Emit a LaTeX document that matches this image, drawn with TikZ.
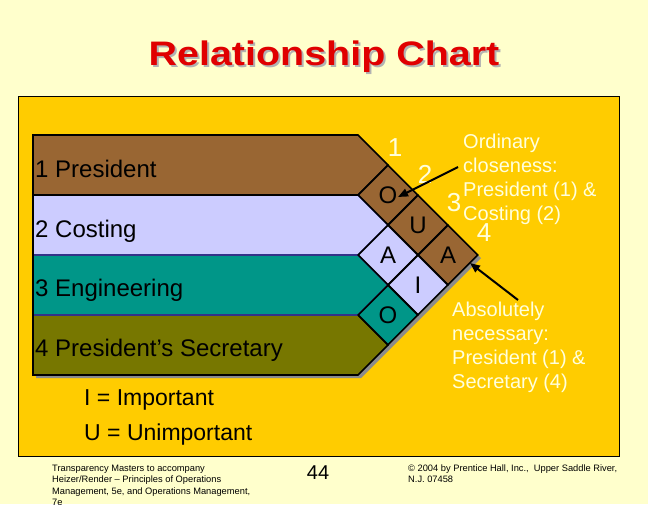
\documentclass[tikz,border=0pt]{standalone}
\usepackage{fontspec}
\setmainfont{Liberation Sans}
\usetikzlibrary{arrows.meta,shapes.geometric}
\definecolor{slidebg}{HTML}{FFFFCC}
\definecolor{panelgold}{HTML}{FFCC00}
\definecolor{titlered}{HTML}{E00000}
\definecolor{presbrown}{HTML}{996633}
\definecolor{costlav}{HTML}{CCCCFF}
\definecolor{engteal}{HTML}{009688}
\definecolor{secolive}{HTML}{777700}
\definecolor{rownavy}{HTML}{333388}
\definecolor{notewhite}{HTML}{FFFFDD}
\begin{document}
\begin{tikzpicture}[x=1pt,y=-1pt,
  rowline/.style={line width=1.6pt},
  cell/.style={draw, diamond, line width=1.6pt, minimum width=60pt, minimum height=60pt, inner sep=0pt, font=\fontsize{24}{24}\selectfont},
  rowtext/.style={anchor=base west, inner sep=0pt, font=\fontsize{24}{28}\selectfont},
  note/.style={anchor=base west, align=left, inner sep=0pt, text=notewhite, font=\fontsize{20}{24}\selectfont},
  pairnum/.style={text=notewhite, inner sep=0pt, font=\fontsize{26}{26}\selectfont},
  pointer/.style={line width=2pt, -{Triangle[length=10pt,width=8pt]}},
  foot/.style={anchor=base west, align=left, inner sep=0pt, font=\fontsize{9.3}{11.5}\selectfont}]
\useasboundingbox (0,0) rectangle (648,504);
\fill[slidebg] (0,0) rectangle (648,504);
\draw[fill=panelgold, line width=1pt] (18,96) rectangle (619,456);

% title with its shadow
\node[anchor=base, text=black!30, font=\bfseries\fontsize{34}{40}\selectfont] (titleshade) at (326,67) {\scalebox{1.16}[1]{Relationship Chart}};
\node[anchor=base, text=titlered, font=\bfseries\fontsize{34}{40}\selectfont] (title) at (324,65) {\scalebox{1.16}[1]{Relationship Chart}};

% shadow of the chart
\fill[black!45] (36,138) -- (361,138) -- (481,258) -- (361,378) -- (36,378) -- cycle;

% the four rows
\draw[rowline, fill=secolive] (33,315) -- (358,315) -- (388,345) -- (358,375) -- (33,375) -- cycle;
\draw[rowline, draw=rownavy, fill=engteal] (33,255) -- (358,255) -- (388,285) -- (358,315) -- (33,315) -- cycle;
\draw[rowline, draw=rownavy, fill=costlav] (33,195) -- (358,195) -- (388,225) -- (358,255) -- (33,255) -- cycle;
\draw[rowline, fill=presbrown] (33,135) -- (358,135) -- (388,165) -- (358,195) -- (33,195) -- cycle;
\draw[rowline] (33,135) -- (33,375);

\node[rowtext] (president) at (35,177) {1 President};
\node[rowtext] (costing) at (35,237) {2 Costing};
\node[rowtext] (engineering) at (35,296) {3 Engineering};
\node[rowtext] (secretary) at (35,356) {4 President’s Secretary};

% relationship cells
\node[cell, fill=presbrown] (c12) at (388,195) {O};
\node[cell, fill=presbrown] (c13) at (418,225) {U};
\node[cell, fill=presbrown] (c14) at (448,255) {A};
\node[cell, fill=costlav] (c23) at (388,255) {A};
\node[cell, fill=costlav] (c24) at (418,285) {I};
\node[cell, fill=engteal] (c34) at (388,315) {O};

\node[pairnum] (n1) at (395,148) {1};
\node[pairnum] (n2) at (425,174) {2};
\node[pairnum] (n3) at (454,203) {3};
\node[pairnum] (n4) at (484,233) {4};

% notes on the right
\node[note] (ordnote) at (463,220) {Ordinary\\closeness:\\President (1) \&\\Costing (2)};
\node[note] (absnote) at (452,388) {Absolutely\\necessary:\\President (1) \&\\Secretary (4)};
\coordinate (ordfrom) at (458,167);
\coordinate (ordto) at (398,197);
\coordinate (absfrom) at (518,300);
\coordinate (absto) at (470,263);
\draw[pointer] (ordfrom) -- (ordto);
\draw[pointer] (absfrom) -- (absto);

% key
\node[rowtext, font=\fontsize{23}{28}\selectfont] (keyi) at (84,405) {I = Important};
\node[rowtext, font=\fontsize{23}{28}\selectfont] (keyu) at (84,440) {U = Unimportant};

% footer
\node[foot] (footleft) at (52,505.5) {Transparency Masters to accompany\\Heizer/Render – Principles of Operations\\Management, 5e, and Operations Management,\\7e};
\node[anchor=base, inner sep=0pt, font=\fontsize{20}{24}\selectfont] (pagenum) at (318,479) {44};
\node[foot] (footright) at (408,482.5) {© 2004 by Prentice Hall, Inc.,\ \ Upper Saddle River,\\N.J. 07458};
\end{tikzpicture}
\end{document}
